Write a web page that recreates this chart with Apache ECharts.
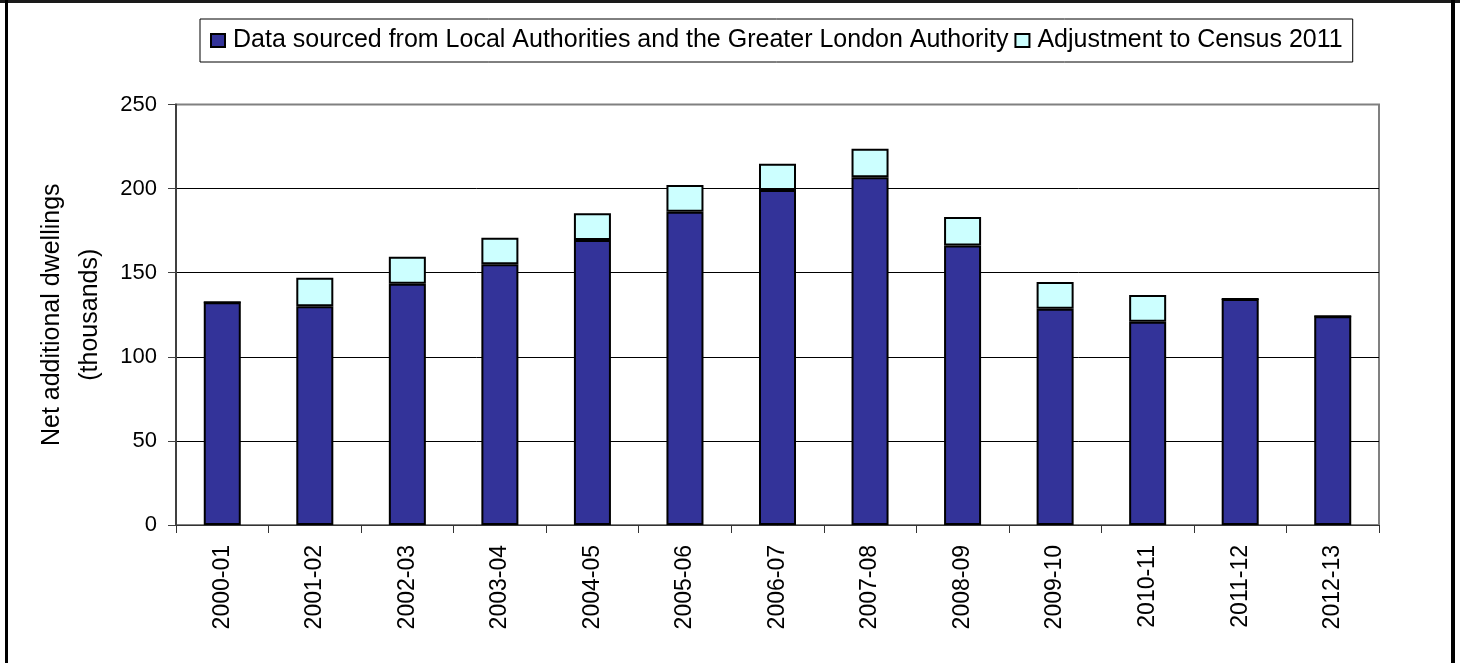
<!DOCTYPE html>
<html>
<head>
<meta charset="utf-8">
<script src="https://cdn.jsdelivr.net/npm/echarts@6/dist/echarts.min.js"></script>
<style>
html,body{margin:0;padding:0;background:#fff;}
#chart{width:1460px;height:663px;}
</style>
</head>
<body>
<div id="chart"></div>
<script>
const categories = ['2000-01','2001-02','2002-03','2003-04','2004-05','2005-06','2006-07','2007-08','2008-09','2009-10','2010-11','2011-12','2012-13'];
const localData = [132.4, 130.0, 143.5, 155.0, 169.4, 186.3, 199.2, 206.7, 166.1, 128.6, 120.9, 134.4, 124.1];
const adjustment = [0, 17.0, 16.0, 15.8, 15.9, 15.8, 15.6, 17.0, 17.0, 15.9, 15.8, 0, 0];
const seriesNames = ['Data sourced from Local Authorities and the Greater London Authority', 'Adjustment to Census 2011'];
const yTicks = [0, 50, 100, 150, 200, 250];
const yAxisTitle = 'Net additional dwellings\n(thousands)';

const font = '"Liberation Sans", Arial, sans-serif';
const chart = echarts.init(document.getElementById('chart'));
chart.setOption({
  animation: false,
  backgroundColor: '#ffffff',
  textStyle: {fontFamily: font},
  graphic: [
    {type: 'rect', shape: {x: 0, y: 0, width: 1460, height: 3}, style: {fill: '#1a1a1a'}, silent: true},
    {type: 'rect', shape: {x: 5, y: 0, width: 3, height: 663}, style: {fill: '#000'}, silent: true},
    {type: 'rect', shape: {x: 1451, y: 0, width: 4, height: 663}, style: {fill: '#000'}, silent: true}
  ],
  legend: {
    left: 200, top: 19,
    padding: [9, 10, 9, 10],
    borderColor: '#000', borderWidth: 1,
    icon: 'rect', itemWidth: 14, itemHeight: 13, itemGap: 6,
    textStyle: {fontSize: 25, color: '#000', fontFamily: font, padding: [0, 0, 0, 3]},
    data: seriesNames
  },
  grid: {left: 176, right: 81, top: 104.5, bottom: 138, show: true, borderColor: '#808080', borderWidth: 2},
  xAxis: {
    type: 'category', data: categories,
    axisLine: {lineStyle: {color: '#333', width: 1}},
    axisTick: {show: true, length: 8, interval: 0, lineStyle: {color: '#333'}},
    axisLabel: {rotate: 90, fontSize: 23, color: '#000', margin: 20, interval: 0, fontFamily: font}
  },
  yAxis: {
    type: 'value', min: 0, max: 250, interval: 50,
    name: yAxisTitle, nameLocation: 'middle', nameRotate: 90, nameGap: 55,
    nameTextStyle: {fontSize: 25, color: '#000', lineHeight: 38, fontFamily: font},
    axisLine: {show: true, lineStyle: {color: '#404040', width: 2}},
    axisTick: {show: true, length: 8, lineStyle: {color: '#404040'}},
    axisLabel: {fontSize: 22, color: '#000', margin: 19, fontFamily: font,
      formatter: v => yTicks.includes(v) ? String(v) : ''},
    splitLine: {show: true, lineStyle: {color: ['#000','#000','#000','#000','#000','#808080'], width: 1}}
  },
  series: [
    {name: seriesNames[0], type: 'bar', stack: 'total', data: localData, barWidth: '40%',
     itemStyle: {color: '#333399', borderColor: '#000', borderWidth: 2}},
    {name: seriesNames[1], type: 'bar', stack: 'total', data: adjustment, barWidth: '40%',
     itemStyle: {color: '#ccffff', borderColor: '#000', borderWidth: 2}}
  ]
});
</script>
</body>
</html>
